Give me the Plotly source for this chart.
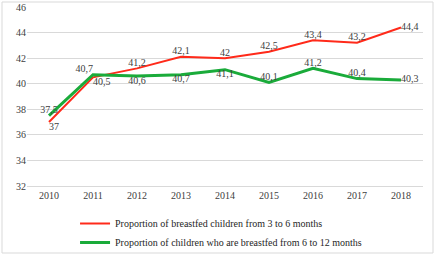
import plotly.graph_objects as go

years = ["2010", "2011", "2012", "2013", "2014", "2015", "2016", "2017", "2018"]
red_name = "Proportion of breastfed children from 3 to 6 months"
green_name = "Proportion of children who are breastfed from 6 to 12 months"
red_vals = [37, 40.5, 41.2, 42.1, 42, 42.5, 43.4, 43.2, 44.4]
green_vals = [37.5, 40.7, 40.6, 40.7, 41.1, 40.1, 41.2, 40.4, 40.3]
red_pos = ["bottom right", "bottom right", "top center", "top center", "top center",
           "top center", "top center", "top center", "middle right"]
green_pos = ["top center", "top left", "bottom center", "bottom center", "bottom center",
             "top center", "top center", "top center", "middle right"]

def fmt(v):
    s = f"{v:g}"
    return s.replace(".", ",")

FONT = "'Liberation Serif', 'Times New Roman', serif"
FS = 10
fig = go.Figure()
fig.add_trace(go.Scatter(x=years, y=red_vals, name=red_name, mode="lines+text",
                         line=dict(color="#ff2a1a", width=2),
                         text=[fmt(v) for v in red_vals], textposition=red_pos,
                         textfont=dict(family=FONT, size=FS, color="#404040")))
fig.add_trace(go.Scatter(x=years, y=green_vals, name=green_name, mode="lines+text",
                         line=dict(color="#1aab3a", width=3),
                         text=[fmt(v) for v in green_vals], textposition=green_pos,
                         textfont=dict(family=FONT, size=FS, color="#404040")))

W, H = 436, 256
L, R, T, B = 27, 13, 7, 70
pw, ph = W - L - R, H - T - B
fig.update_layout(
    template="none",
    width=W, height=H, margin=dict(l=L, r=R, t=T, b=B, autoexpand=False),
    paper_bgcolor="white", plot_bgcolor="white",
    font=dict(family=FONT, size=FS, color="#404040"),
    showlegend=True,
    legend=dict(orientation="v", x=0.49, xanchor="center",
                yref="container", y=1 - 209 / H, yanchor="top",
                font=dict(family=FONT, size=FS, color="#262626"),
                tracegroupgap=0, itemwidth=30, bgcolor="rgba(0,0,0,0)"),
    xaxis=dict(type="category", range=[-0.5, 8.5], showgrid=False, showline=True,
               linecolor="#d9d9d9", ticks="", automargin=False,
               tickfont=dict(family=FONT, size=FS, color="#404040")),
    yaxis=dict(range=[32, 46], dtick=2, showgrid=True, gridcolor="#d9d9d9", gridwidth=1,
               zeroline=False, showline=False, ticks="", automargin=False,
               tickfont=dict(family=FONT, size=FS, color="#404040")),
    shapes=[dict(type="rect", xref="paper", yref="paper",
                 x0=(2 - L) / pw, x1=(433 - L) / pw,
                 y0=(T + ph - 253) / ph, y1=(T + ph - 2) / ph,
                 line=dict(color="#d9d9d9", width=1), layer="below")],
)
fig.write_html("out.html", config={"displayModeBar": False},
               post_script="document.body.style.margin='0';document.body.style.overflow='hidden';")
